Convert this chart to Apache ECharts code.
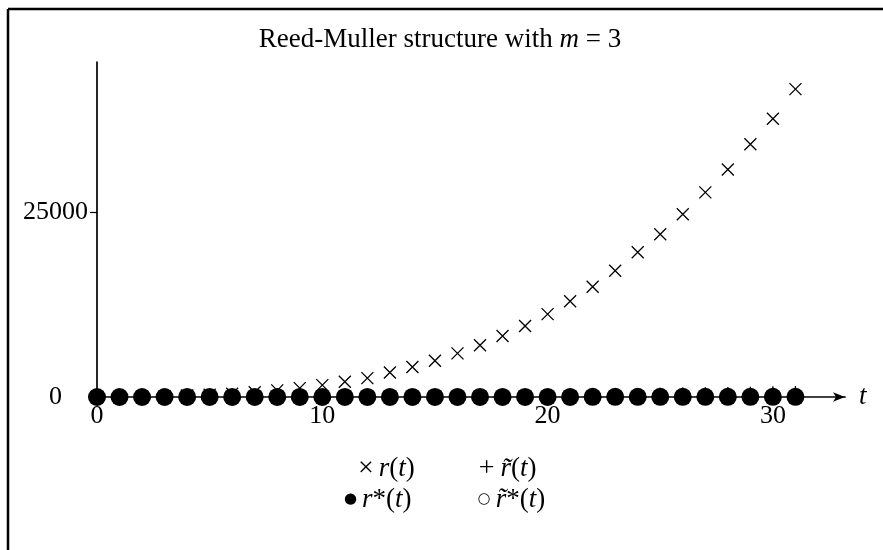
<!DOCTYPE html>
<html>
<head>
<meta charset="utf-8">
<script src="https://cdn.jsdelivr.net/npm/echarts@6/dist/echarts.min.js"></script>
<style>
html,body{margin:0;padding:0;background:#fff;}
#c{width:883px;height:550px;}
</style>
</head>
<body>
<div id="c"></div>
<script>
const tValues = [0,1,2,3,4,5,6,7,8,9,10,11,12,13,14,15,16,17,18,19,20,21,22,23,24,25,26,27,28,29,30,31];
const rValues = [0,10,40,100,200,300,450,650,900,1200,1600,2050,2550,3300,4050,4900,5900,7000,8250,9600,11200,12950,14900,17050,19550,22000,24700,27650,30750,34150,37600,41600];
const rTildeValues = [0,1,3,6,11,18,25,34,45,57,70,85,100,118,137,157,179,202,227,253,280,309,339,370,403,437,473,510,549,589,630,673];
const rStarValues = [0,0,1,1,2,2,3,3,4,5,5,6,7,8,9,10,11,12,13,14,15,16,17,18,19,20,21,22,23,24,25,26];
const rTildeStarValues = [0,0,0,1,1,1,2,2,2,3,3,3,4,4,4,5,5,5,6,6,6,7,7,7,8,8,8,9,9,9,10,10];
const xTicks = [0,10,20,30];
const yTicks = [0,25000];

const FONT = 'Liberation Serif';
const pair = (ys) => tValues.map((t,i)=>[t, ys[i]]);

const crossPath = 'path://M0,0L10,10M10,0L0,10';
const plusPath = 'path://M5,0L5,10M0,5L10,5';

const rich = {
  sx: {fontFamily: FONT, fontSize: 28, color: '#000', fontWeight: 'normal', padding: [0, 5, 0, 0]},
  sp: {fontFamily: FONT, fontSize: 28, color: '#000', fontWeight: 'normal', padding: [0, 6, 0, 0]},
  sd: {fontFamily: 'DejaVu Sans', fontSize: 15, color: '#000', fontWeight: 'normal', padding: [0, 5, 0, 0]},
  i: {fontFamily: FONT, fontSize: 27, fontStyle: 'italic', fontWeight: 'normal', color: '#000'},
  u: {fontFamily: FONT, fontSize: 27, fontWeight: 'normal', color: '#000'},
  ti: {fontFamily: FONT, fontSize: 27, fontStyle: 'italic', fontWeight: 'normal', color: '#000'},
  tu: {fontFamily: FONT, fontSize: 27, fontWeight: 'normal', color: '#000'}
};
const legendText = {
  'r(t)': '{sx|×}{i|r}{u|(}{i|t}{u|)}',
  'r~(t)': '{sp|+}{i|r\u0303}{u|(}{i|t}{u|)}',
  'r*(t)': '{sd|●}{i|r}{u|*(}{i|t}{u|)}',
  'r~*(t)': '{sd|○}{i|r\u0303}{u|*(}{i|t}{u|)}'
};

const chart = echarts.init(document.getElementById('c'), null, {renderer: 'canvas'});
const option = {
  backgroundColor: '#fff',
  animation: false,
  title: {
    text: '{tu|Reed-Muller structure with }{ti|m}{tu| = 3}',
    left: 435, top: 21, textAlign: 'center',
    textStyle: {rich: rich, fontWeight: 'normal'}
  },
  grid: {left: 97, right: 38, top: 62, bottom: 153, containLabel: false},
  xAxis: {
    type: 'value', min: 0, max: 33.2, interval: 10,
    name: 't', nameLocation: 'end', nameGap: 14,
    nameTextStyle: {fontFamily: FONT, fontSize: 27, fontStyle: 'italic', color: '#000', verticalAlign: 'middle'},
    axisLine: {onZero: false, lineStyle: {color: '#000', width: 1.7}, symbol: ['none','arrow'], symbolSize: [7, 12]},
    axisTick: {show: false},
    splitLine: {show: false},
    axisLabel: {
      fontFamily: FONT, fontSize: 26, color: '#000', margin: 6, showMaxLabel: false,
      formatter: v => xTicks.includes(v) ? String(v) : ''
    }
  },
  yAxis: {
    type: 'value', min: 0, max: 45270, interval: 25000,
    axisLine: {show: true, onZero: false, lineStyle: {color: '#000', width: 1.7}},
    axisTick: {show: true, length: 7, lineStyle: {color: '#000', width: 1.2}},
    splitLine: {show: false},
    axisLabel: {
      fontFamily: FONT, fontSize: 26, color: '#000', margin: 9, showMaxLabel: false,
      formatter: v => v === 0 ? '{z|0}' : (yTicks.includes(v) ? String(v) : ''),
      rich: {z: {fontFamily: FONT, fontSize: 26, color: '#000', padding: [0, 26, 0, 0]}}
    }
  },
  legend: [
    {
      left: 347, top: 450, orient: 'horizontal', itemWidth: 0, itemHeight: 0, itemGap: 58,
      selectedMode: false,
      data: ['r(t)', 'r~(t)'],
      formatter: n => legendText[n],
      textStyle: {rich: rich}
    },
    {
      left: 334, top: 481, orient: 'horizontal', itemWidth: 0, itemHeight: 0, itemGap: 60,
      selectedMode: false,
      data: ['r*(t)', 'r~*(t)'],
      formatter: n => legendText[n],
      textStyle: {rich: rich}
    }
  ],
  series: [
    {
      name: 'r(t)', type: 'scatter', data: pair(rValues), z: 2,
      symbol: crossPath, symbolSize: 12,
      itemStyle: {color: 'rgba(0,0,0,0)', borderColor: '#000', borderWidth: 1.3, opacity: 1}
    },
    {
      name: 'r~(t)', type: 'scatter', data: pair(rTildeValues), z: 3,
      symbol: plusPath, symbolSize: 12,
      itemStyle: {color: 'rgba(0,0,0,0)', borderColor: '#000', borderWidth: 1.3, opacity: 1}
    },
    {
      name: 'r*(t)', type: 'scatter', data: pair(rStarValues), z: 5,
      symbol: 'circle', symbolSize: 18,
      itemStyle: {color: '#000', borderWidth: 0, opacity: 1}
    },
    {
      name: 'r~*(t)', type: 'scatter', data: pair(rTildeStarValues), z: 4,
      symbol: 'circle', symbolSize: 10,
      itemStyle: {color: '#fff', borderColor: '#000', borderWidth: 1.1, opacity: 1}
    }
  ],
  graphic: [
    {type: 'line', shape: {x1: 8, y1: 9, x2: 883, y2: 9}, style: {stroke: '#000', lineWidth: 2.5}, silent: true},
    {type: 'line', shape: {x1: 8, y1: 9, x2: 8, y2: 550}, style: {stroke: '#000', lineWidth: 2.5}, silent: true}
  ]
};
chart.setOption(option);
</script>
</body>
</html>
